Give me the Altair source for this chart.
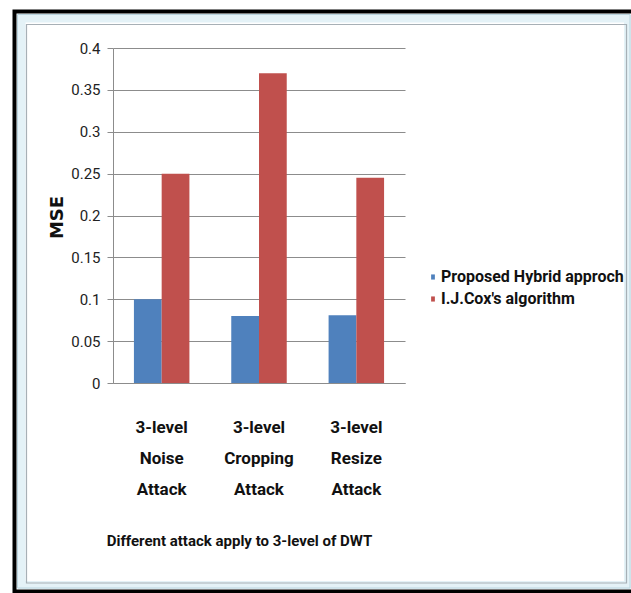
import altair as alt
import pandas as pd

categories = ["3-level Noise Attack", "3-level Cropping Attack", "3-level Resize Attack"]
series = ["Proposed Hybrid approch", "I.J.Cox's algorithm"]
proposed = [0.1, 0.08, 0.081]
cox = [0.25, 0.37, 0.245]
y_ticks = [0, 0.05, 0.1, 0.15, 0.2, 0.25, 0.3, 0.35, 0.4]
colors = ["#4F81BD", "#C0504D"]

rows = []
for i, c in enumerate(categories):
    rows.append({"cat": c, "series": series[0], "val": proposed[i]})
    rows.append({"cat": c, "series": series[1], "val": cox[i]})
df = pd.DataFrame(rows)

F = "Roboto"
PL, PT = 113, 48

bars = alt.Chart(df).mark_bar().encode(
    x=alt.X("cat:N", sort=categories,
            scale=alt.Scale(paddingInner=0.43, paddingOuter=0.215),
            axis=alt.Axis(title="Different attack apply to 3-level of DWT",
                          labelExpr="split(datum.label, ' ')",
                          labelAngle=0, ticks=False, domainColor="#8c8c8c",
                          labelFont=F, labelFontSize=17, labelFontWeight="bold",
                          labelColor="#111", labelLineHeight=31, labelPadding=36,
                          labelBaseline="top",
                          titleFont=F, titleFontSize=15, titleFontWeight="bold",
                          titleColor="#111", titleX=126, titleY=157,
                          titleBaseline="middle", titleAlign="center")),
    xOffset=alt.XOffset("series:N", sort=series,
                        scale=alt.Scale(paddingInner=0, paddingOuter=0)),
    y=alt.Y("val:Q", scale=alt.Scale(domain=[0, 0.4], nice=False),
            axis=alt.Axis(title="MSE", values=y_ticks, format="~g",
                          gridColor="#8c8c8c", gridWidth=1.2,
                          domainColor="#8c8c8c", tickColor="#8c8c8c", tickSize=6,
                          labelFont=F, labelFontSize=15, labelColor="#222",
                          labelPadding=7,
                          titleFont="DejaVu Sans", titleFontSize=18,
                          titleFontWeight="bold", titleColor="#111",
                          titleX=-56, titleY=169, titleAngle=270,
                          titleAlign="center", titleBaseline="middle")),
    color=alt.Color("series:N", sort=series,
                    scale=alt.Scale(domain=series, range=colors),
                    legend=alt.Legend(title=None, orient="none",
                                      legendX=312, legendY=221,
                                      symbolType="M-0.33,-0.45L0.33,-0.45L0.33,0.45L-0.33,0.45Z",
                                      symbolSize=130, symbolStrokeWidth=0,
                                      labelFont=F, labelFontSize=16, labelLimit=400,
                                      labelFontWeight="bold", labelColor="#111",
                                      labelOffset=0, rowPadding=6)),
)

one = alt.Chart(pd.DataFrame({"a": [0]}))
outer = one.mark_rect(fillOpacity=0, stroke="black", strokeWidth=4).encode(
    x=alt.value(14.5 - PL), x2=alt.value(640 - PL),
    y=alt.value(11.5 - PT), y2=alt.value(591.5 - PT))
band = one.mark_rect(fillOpacity=0, stroke="#e4f2f7", strokeWidth=8).encode(
    x=alt.value(21.5 - PL), x2=alt.value(628 - PL),
    y=alt.value(18.5 - PT), y2=alt.value(585 - PT))
band_edge = one.mark_rect(fillOpacity=0, stroke="#b9d4de", strokeWidth=1).encode(
    x=alt.value(17.5 - PL), x2=alt.value(630 - PL),
    y=alt.value(14.5 - PT), y2=alt.value(588 - PT))
inner = one.mark_rect(fillOpacity=0, stroke="#a7b0b6", strokeWidth=1.2).encode(
    x=alt.value(26.5 - PL), x2=alt.value(626.5 - PL),
    y=alt.value(24.5 - PT), y2=alt.value(583 - PT))

chart = alt.layer(band, band_edge, inner, outer, bars).properties(
    width=292, height=335,
    autosize=alt.AutoSizeParams(type="none"),
    padding={"left": PL, "top": PT, "right": 631 - PL - 292, "bottom": 593 - PT - 335},
    background="white",
).configure_view(stroke=None)

chart.save("out.html", embed_options={"renderer": "svg", "actions": False})
